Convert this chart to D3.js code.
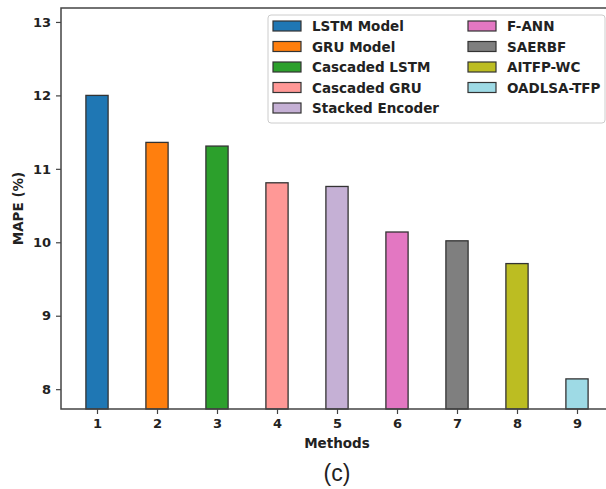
<!DOCTYPE html>
<html>
<head>
<meta charset="utf-8">
<script src="https://cdn.jsdelivr.net/npm/d3@7/dist/d3.min.js"></script>
<style>
  body { margin: 0; background: #fff; overflow: hidden; }
  svg { display: block; }
  .tick text { font-family: "DejaVu Sans", sans-serif; font-weight: bold; font-size: 13px; fill: #222; }
</style>
</head>
<body>
<div id="chart"></div>
<script>
// chart values
var methods = ["LSTM Model", "GRU Model", "Cascaded LSTM", "Cascaded GRU", "Stacked Encoder",
               "F-ANN", "SAERBF", "AITFP-WC", "OADLSA-TFP"];
var positions = [1, 2, 3, 4, 5, 6, 7, 8, 9];
var mape = [12.0, 11.36, 11.31, 10.81, 10.76, 10.14, 10.02, 9.71, 8.14];
var yTicks = [8, 9, 10, 11, 12, 13];
var colors = ["#1f77b4", "#ff7f0e", "#2ca02c", "#ff9896", "#c5b0d5",
              "#e377c2", "#7f7f7f", "#bcbd22", "#9edae5"];

var W = 606, H = 489;
var margin = { top: 8, left: 61, bottom: 80 },
    width = 552,
    height = H - margin.top - margin.bottom;

var svg = d3.select("#chart").append("svg")
  .attr("width", W)
  .attr("height", H);

var g = svg.append("g")
  .attr("transform", "translate(" + margin.left + "," + margin.top + ")");

var xScale = d3.scaleLinear().domain([0.4, 9.6]).range([0, width]);
var yScale = d3.scaleLinear().domain([7.73, 13.19]).range([height, 0]);
var barW = xScale(1.37) - xScale(1);

// bars
g.selectAll("rect.bar")
  .data(mape)
  .enter().append("rect")
  .attr("class", "bar")
  .attr("x", function(d, i) { return xScale(positions[i]) - barW / 2; })
  .attr("y", function(d) { return yScale(d); })
  .attr("width", barW)
  .attr("height", function(d) { return height - yScale(d); })
  .style("fill", function(d, i) { return colors[i]; })
  .style("stroke", "#333")
  .style("stroke-width", 1.3);

// axes
var xAxis = g.append("g")
  .attr("transform", "translate(0," + height + ")")
  .call(d3.axisBottom(xScale).tickValues(positions).tickFormat(d3.format("d")).tickSize(5).tickPadding(5));
var yAxis = g.append("g")
  .call(d3.axisLeft(yScale).tickValues(yTicks).tickFormat(d3.format("d")).tickSize(5).tickPadding(5));

[xAxis, yAxis].forEach(function(a) {
  a.select(".domain").remove();
  a.selectAll(".tick line").style("stroke", "#444").style("stroke-width", 1.2);
});

// frame (right spine lies outside the picture)
g.append("path")
  .attr("d", "M" + W + ",0H0V" + height + "H" + W)
  .style("fill", "none")
  .style("stroke", "#444")
  .style("stroke-width", 1.5);

// axis labels
svg.append("text")
  .attr("x", margin.left + xScale(5))
  .attr("y", 448)
  .style("font-family", "DejaVu Sans, sans-serif")
  .style("font-weight", "bold")
  .style("font-size", "13.5px")
  .style("fill", "#222")
  .style("text-anchor", "middle")
  .text("Methods");

svg.append("text")
  .attr("transform", "rotate(-90)")
  .attr("x", -(margin.top + height / 2))
  .attr("y", 23)
  .style("font-family", "DejaVu Sans, sans-serif")
  .style("font-weight", "bold")
  .style("font-size", "13.5px")
  .style("fill", "#222")
  .style("text-anchor", "middle")
  .text("MAPE (%)");

svg.append("text")
  .attr("x", margin.left + xScale(5))
  .attr("y", 481)
  .style("font-family", "Liberation Sans, Arial, sans-serif")
  .style("font-size", "23px")
  .style("fill", "#222")
  .style("text-anchor", "middle")
  .text("(c)");

// legend
var legend = svg.append("g").attr("transform", "translate(268,15)");
legend.append("rect")
  .attr("width", 337).attr("height", 108)
  .attr("rx", 3)
  .style("fill", "#fff")
  .style("stroke", "#ccc")
  .style("stroke-width", 1);

var items = legend.selectAll("g.item")
  .data(methods)
  .enter().append("g")
  .attr("class", "item")
  .attr("transform", function(d, i) {
    var col = i < 5 ? 0 : 1, row = i < 5 ? i : i - 5;
    return "translate(" + (5 + col * 195) + "," + (11 + row * 20.5) + ")";
  });

items.append("rect")
  .attr("x", 0).attr("y", -5)
  .attr("width", 28).attr("height", 10)
  .style("fill", function(d, i) { return colors[i]; })
  .style("stroke", "#333")
  .style("stroke-width", 1.2);

items.append("text")
  .attr("x", 39)
  .attr("y", 5)
  .style("font-family", "DejaVu Sans, sans-serif")
  .style("font-weight", "bold")
  .style("font-size", "13.5px")
  .style("fill", "#222")
  .text(function(d) { return d; });
</script>
</body>
</html>
